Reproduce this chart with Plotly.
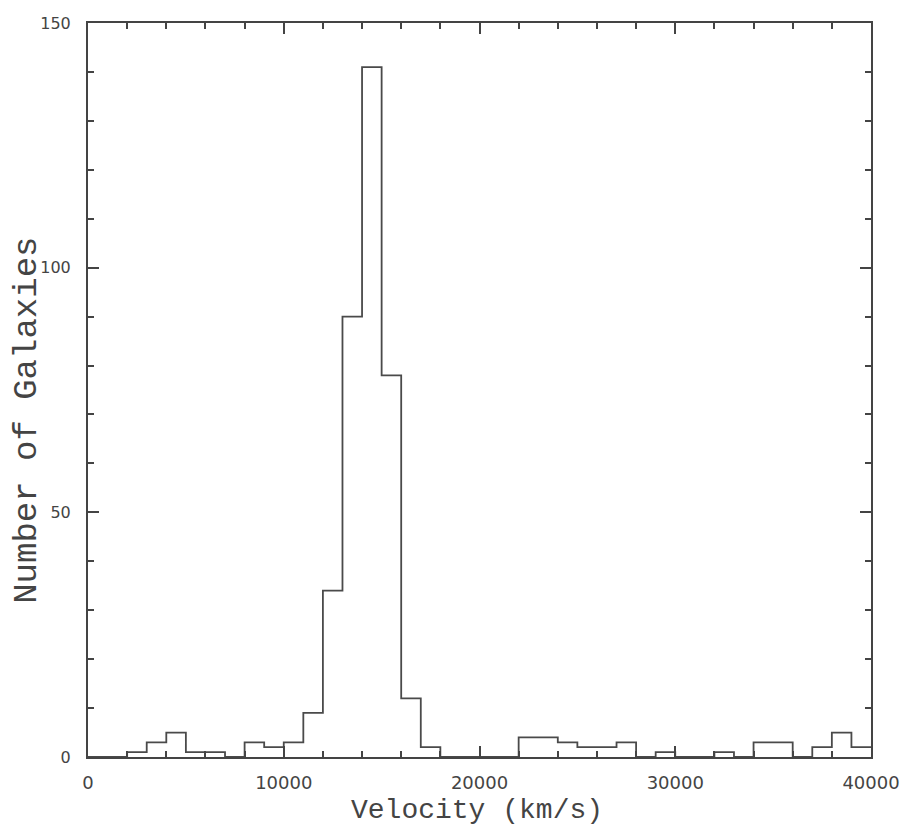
import plotly.graph_objects as go

# Histogram of galaxy velocities: 1000 km/s bins from 0 to 40000
bin_left = [0, 1000, 2000, 3000, 4000, 5000, 6000, 7000, 8000, 9000,
            10000, 11000, 12000, 13000, 14000, 15000, 16000, 17000, 18000, 19000,
            20000, 21000, 22000, 23000, 24000, 25000, 26000, 27000, 28000, 29000,
            30000, 31000, 32000, 33000, 34000, 35000, 36000, 37000, 38000, 39000]
bin_right_end = 40000
counts = [0, 0, 1, 3, 5, 1, 1, 0, 3, 2,
          3, 9, 34, 90, 141, 78, 12, 2, 0, 0,
          0, 0, 4, 4, 3, 2, 2, 3, 0, 1,
          0, 0, 1, 0, 3, 3, 0, 2, 5, 2]

x_ticks = [0, 10000, 20000, 30000, 40000]
x_tick_text = ["0", "10000", "20000", "30000", "40000"]
y_ticks = [0, 50, 100, 150]
y_tick_text = ["0", "50", "100", "150"]

x_title = "Velocity (km/s)"
y_title = "Number of Galaxies"

step_x = bin_left + [bin_right_end]
step_y = counts + [counts[-1]]

INK = "#444444"

fig = go.Figure()
fig.add_trace(go.Scatter(
    x=step_x, y=step_y, mode="lines",
    line=dict(shape="hv", color="#4a4a4a", width=1.8),
    hoverinfo="x+y", showlegend=False,
))

axis_common = dict(
    showline=True, linecolor=INK, linewidth=2, mirror="ticks",
    ticks="inside", tickcolor=INK, tickwidth=1.5,
    showgrid=False, zeroline=False, automargin=False,
)

fig.update_xaxes(
    range=[0, 40000], tickvals=x_ticks, ticktext=x_tick_text, ticklen=11,
    minor=dict(dtick=2000, tick0=0, ticks="inside", ticklen=6, tickcolor=INK, tickwidth=1.5, showgrid=False),
    tickfont=dict(family="DejaVu Sans", size=18, color=INK),
    ticklabelstandoff=8,
    **axis_common,
)
fig.update_yaxes(
    range=[0, 150], tickvals=y_ticks, ticktext=y_tick_text, ticklen=11,
    minor=dict(dtick=10, tick0=0, ticks="inside", ticklen=6, tickcolor=INK, tickwidth=1.5, showgrid=False),
    tickfont=dict(family="DejaVu Sans", size=16, color=INK),
    ticklabelstandoff=12,
    **axis_common,
)

fig.add_annotation(
    text=x_title, xref="paper", yref="paper", x=0.497, y=0,
    xanchor="center", yanchor="middle", yshift=-53, showarrow=False,
    font=dict(family="Liberation Mono", size=28, color=INK),
)
fig.add_annotation(
    text=y_title, xref="paper", yref="paper", x=0, y=0.458,
    xanchor="center", yanchor="middle", xshift=-61, textangle=-90, showarrow=False,
    font=dict(family="Liberation Mono", size=34, color=INK),
)

fig.update_layout(
    width=902, height=830,
    margin=dict(l=88, r=31, t=23, b=73),
    paper_bgcolor="white", plot_bgcolor="white",
)

fig.write_html("out.html")
